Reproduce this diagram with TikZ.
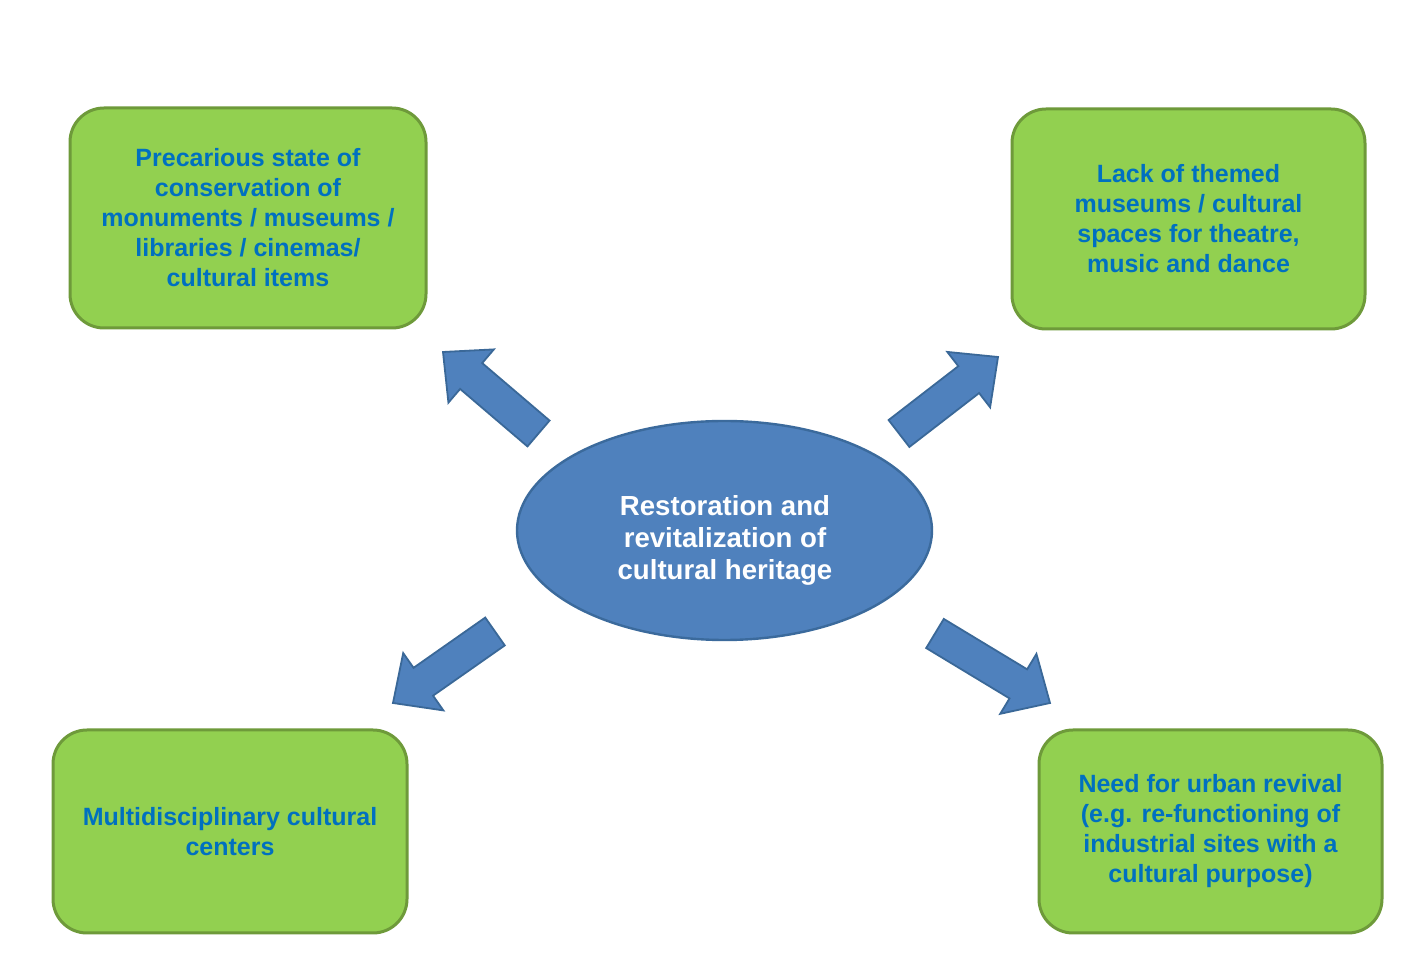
\documentclass[tikz,border=0pt]{standalone}
\usepackage{fontspec}
\setmainfont{Liberation Sans}
\usetikzlibrary{calc,shapes.geometric}
\definecolor{boxfill}{HTML}{92D050}
\definecolor{boxline}{HTML}{6E9A3A}
\definecolor{boxtext}{HTML}{0070C0}
\definecolor{ellfill}{HTML}{4F81BD}
\definecolor{ellline}{HTML}{3B6A9C}
\definecolor{arrline}{HTML}{3A6898}
\tikzset{
  greenbox/.style={draw=boxline, line width=1.5pt, fill=boxfill, rounded corners=17pt,
    align=center, text=boxtext, font=\fontsize{12.5}{15}\selectfont\bfseries, inner sep=0pt},
  centreell/.style={ellipse, draw=ellline, line width=1.2pt, fill=ellfill, inner sep=0pt},
  centretext/.style={align=center, text=white, font=\fontsize{13.8}{16}\selectfont\bfseries},
  arrowbody/.style={draw=arrline, line width=0.9pt, fill=ellfill, line join=miter}
}
% block arrow from tail centre #1 to tip #2
\newcommand{\blockarr}[2]{%
  \coordinate (#1b) at ($(#2)!18.5pt!(#1)$);
  \draw[arrowbody] ($(#1)!8.5pt!-90:(#2)$) -- ($(#1b)!8.5pt!-90:(#2)$) -- ($(#1b)!17.5pt!-90:(#2)$)
     -- (#2) -- ($(#1b)!17.5pt!90:(#2)$) -- ($(#1b)!8.5pt!90:(#2)$) -- ($(#1)!8.5pt!90:(#2)$) -- cycle;
}
\begin{document}
\begin{tikzpicture}[x=0.5pt,y=-0.5pt]
\useasboundingbox (0,0) rectangle (1421,967);
\fill[white] (0,0) rectangle (1421,967);

\node[greenbox, minimum width=178pt, minimum height=110pt] (tl) at (248,218)
  {Precarious state of\\conservation of\\monuments / museums /\\libraries / cinemas/\\cultural items};
\node[greenbox, minimum width=176.5pt, minimum height=110pt] (tr) at (1188.5,219)
  {Lack of themed\\museums / cultural\\spaces for theatre,\\music and dance};
\node[greenbox, minimum width=177pt, minimum height=101.5pt] (bl) at (230,831.5)
  {Multidisciplinary cultural\\centers};
\node[greenbox, minimum width=171.5pt, minimum height=101.5pt] (br) at (1210.5,831.5)
  {Need for urban revival\\(e.g. re-functioning of\\industrial sites with a\\cultural purpose)};

\node[centreell, minimum width=207.5pt, minimum height=109.5pt] (c) at (724.5,530.5) {};
\node[centretext] (ct) at (725,540) {Restoration and\\revitalization of\\cultural heritage};

\coordinate (a1) at (538.5,433.5); \coordinate (a1t) at (443,352);
\coordinate (a2) at (899,433.5);   \coordinate (a2t) at (998,357);
\coordinate (a3) at (495,631.5);   \coordinate (a3t) at (393,703);
\coordinate (a4) at (935,633.5);   \coordinate (a4t) at (1050,703);
\blockarr{a1}{a1t}
\blockarr{a2}{a2t}
\blockarr{a3}{a3t}
\blockarr{a4}{a4t}
\end{tikzpicture}
\end{document}
